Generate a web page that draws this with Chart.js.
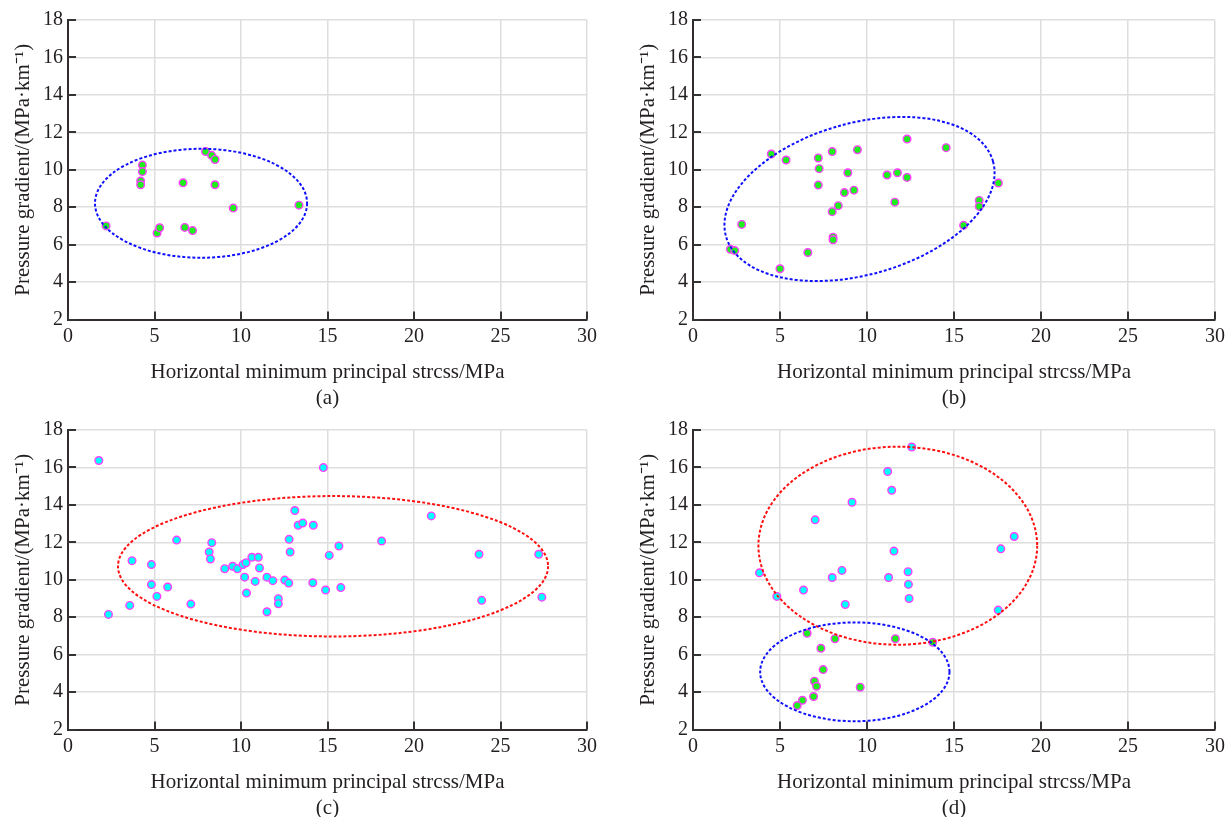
<!DOCTYPE html>
<html>
<head>
<meta charset="utf-8">
<script src="https://cdn.jsdelivr.net/npm/chart.js@4"></script>
<style>
  html, body { margin: 0; padding: 0; background: #fff; overflow: hidden; }
  #wrap { position: relative; width: 1227px; height: 817px; overflow: hidden; }
  canvas { position: absolute; }
</style>
</head>
<body>
<div id="wrap">
  <canvas id="ca" width="613" height="411" style="left:0;top:0"></canvas>
  <canvas id="cb" width="608" height="411" style="left:625px;top:0"></canvas>
  <canvas id="cc" width="613" height="411" style="left:0;top:410px"></canvas>
  <canvas id="cd" width="608" height="411" style="left:625px;top:410px"></canvas>
</div>
<script>
// tick labels
const xTicks = [0, 5, 10, 15, 20, 25, 30];
const yTicks = [2, 4, 6, 8, 10, 12, 14, 16, 18];

// (a) green points
const aX = [2.2, 4.3, 4.3, 4.2, 4.2, 5.15, 5.3, 6.65, 6.75, 7.2, 7.95, 8.3, 8.5, 8.5, 9.55, 13.35];
const aY = [7.0, 10.25, 9.9, 9.4, 9.2, 6.62, 6.9, 9.3, 6.92, 6.75, 10.97, 10.77, 10.55, 9.2, 7.95, 8.11];

// (b) green points
const bX = [2.15, 2.4, 2.8, 4.5, 5.35, 5.0, 6.6, 7.2, 7.25, 7.2, 8.0, 8.0, 8.35, 8.05, 8.05, 8.7, 8.9, 9.25, 9.45,
            11.15, 11.75, 11.6, 12.3, 12.3, 14.55, 15.55, 16.45, 16.45, 17.55];
const bY = [5.75, 5.68, 7.08, 10.84, 10.52, 4.71, 5.58, 10.63, 10.06, 9.18, 10.97, 7.76, 8.08, 6.4, 6.26, 8.78, 9.84, 8.91, 11.07,
            9.72, 9.84, 8.27, 11.64, 9.59, 11.18, 7.03, 8.36, 8.04, 9.29];

// (c) cyan points
const cX = [1.78, 2.34, 3.57, 3.7, 4.82, 4.82, 5.14, 5.76, 6.28, 7.1, 8.16, 8.23, 8.31, 9.06, 9.52, 9.79, 10.12, 10.29,
            10.21, 10.32, 10.63, 11.0, 11.07, 10.82, 11.5, 11.5, 11.84, 12.16, 12.16, 12.53, 12.76, 12.78, 12.84,
            13.11, 13.3, 13.57, 14.18, 14.15, 14.76, 15.66, 15.1, 18.13, 21.0, 23.76, 27.21, 14.89, 15.77, 23.91, 27.39];
const cY = [16.37, 8.15, 8.63, 11.02, 10.81, 9.74, 9.11, 9.61, 12.12, 8.7, 11.48, 11.11, 11.98, 10.59, 10.72, 10.59, 10.81, 10.91,
            10.14, 9.29, 11.2, 11.2, 10.63, 9.91, 10.14, 8.29, 9.95, 8.99, 8.72, 9.98, 9.82, 12.16, 11.48,
            13.7, 12.91, 13.03, 12.91, 9.84, 15.99, 11.8, 11.3, 12.07, 13.41, 11.36, 11.36, 9.45, 9.58, 8.9, 9.07];

// (d) cyan and green points
const dCyanX = [12.57, 11.19, 11.42, 9.14, 7.02, 18.46, 17.69, 11.55, 3.82, 8.56, 8.0, 11.24, 12.36, 12.38, 12.42, 4.82, 6.35, 8.75, 17.54];
const dCyanY = [17.09, 15.78, 14.78, 14.14, 13.2, 12.31, 11.65, 11.53, 10.37, 10.5, 10.12, 10.12, 10.43, 9.75, 9.0, 9.11, 9.45, 8.68, 8.38];
const dGreenX = [6.56, 8.16, 11.63, 13.78, 7.35, 7.48, 6.98, 7.1, 9.61, 6.93, 6.29, 5.99];
const dGreenY = [7.14, 6.85, 6.85, 6.66, 6.34, 5.2, 4.58, 4.31, 4.26, 3.76, 3.56, 3.28];

// ellipses: [centre x, centre y, radius x, radius y, tilt deg]
const aOval = [7.69, 8.21, 6.13, 2.91, 0];
const bOval = [9.57, 8.44, 7.97, 4.05, 15.7];
const cOval = [15.32, 10.72, 12.43, 3.75, 0];
const dRedOval = [11.77, 11.82, 8.01, 5.29, 0];
const dBlueOval = [9.3, 5.08, 5.44, 2.64, 0];

const SERIF = "'Liberation Serif', 'Times New Roman', serif";
const TICK_FONT = { family: SERIF, size: 20 };
const TITLE_FONT = { family: SERIF, size: 21 };
const TEXT = "#231f20";
const GREEN = "#1ef01e", CYAN = "#00ffff", RING = "#ff3cff";

function pts(xs, ys) {
  return xs.map((x, i) => ({ x: x, y: ys[i] }));
}

function series(xs, ys, fill) {
  return {
    data: pts(xs, ys),
    backgroundColor: fill,
    borderColor: RING,
    pointRadius: 3.8,
    pointBorderWidth: 1.4,
    pointHoverRadius: 3.8
  };
}

// dashed ellipses + inward tick marks
function overlay(ovals) {
  return {
    id: "overlay",
    afterDatasetsDraw(chart) {
      const ctx = chart.ctx, xs = chart.scales.x, ys = chart.scales.y;
      ovals.forEach(o => {
        const e = o.e;
        const cx = xs.getPixelForValue(e[0]), cy = ys.getPixelForValue(e[1]);
        const rx = Math.abs(xs.getPixelForValue(e[0] + e[2]) - cx);
        const ry = Math.abs(ys.getPixelForValue(e[1] + e[3]) - cy);
        ctx.save();
        ctx.strokeStyle = o.color;
        ctx.lineWidth = 2;
        ctx.setLineDash([3, 2]);
        ctx.beginPath();
        ctx.ellipse(cx, cy, rx, ry, -e[4] * Math.PI / 180, 0, Math.PI * 2);
        ctx.stroke();
        ctx.restore();
      });
      const a = chart.chartArea;
      ctx.save();
      ctx.strokeStyle = "#333";
      ctx.lineWidth = 2;
      ctx.beginPath();
      xTicks.forEach(v => {
        const p = Math.round(xs.getPixelForValue(v));
        ctx.moveTo(p, a.bottom);
        ctx.lineTo(p, a.bottom - 8);
      });
      yTicks.forEach(v => {
        const p = Math.round(ys.getPixelForValue(v));
        ctx.moveTo(a.left, p);
        ctx.lineTo(a.left + 8, p);
      });
      ctx.stroke();
      ctx.restore();
    }
  };
}

function makeChart(id, datasets, ovals, caption, padRight) {
  new Chart(document.getElementById(id), {
    type: "scatter",
    data: { datasets: datasets },
    options: {
      responsive: false,
      animation: false,
      events: [],
      layout: { padding: { top: 20, right: padRight, bottom: 0, left: 0 } },
      plugins: {
        legend: { display: false },
        tooltip: { enabled: false },
        title: {
          display: true,
          text: caption,
          position: "bottom",
          fullSize: false,
          font: Object.assign({ weight: "normal" }, TITLE_FONT),
          color: TEXT,
          padding: 0
        }
      },
      scales: {
        x: {
          type: "linear",
          min: xTicks[0],
          max: xTicks[xTicks.length - 1],
          afterBuildTicks: s => { s.ticks = xTicks.map(v => ({ value: v })); },
          afterFit: s => { s.height = 66.3; },
          ticks: { font: TICK_FONT, color: TEXT, padding: 5 },
          grid: { color: "#dedede", lineWidth: 1.5, drawTicks: false },
          border: { color: "#332c2c", width: 2 },
          title: {
            display: true,
            text: "Horizontal minimum principal strcss/MPa",
            font: TITLE_FONT,
            color: TEXT,
            padding: { top: 0, bottom: 1 }
          }
        },
        y: {
          type: "linear",
          min: yTicks[0],
          max: yTicks[yTicks.length - 1],
          afterBuildTicks: s => { s.ticks = yTicks.map(v => ({ value: v })); },
          afterFit: s => { s.width = 68; },
          ticks: { font: TICK_FONT, color: TEXT, padding: 5 },
          grid: { color: "#dedede", lineWidth: 1.5, drawTicks: false },
          border: { color: "#332c2c", width: 2 },
          title: {
            display: true,
            text: "Pressure gradient/(MPa\u00b7km\u207b\u00b9)",
            font: TITLE_FONT,
            color: TEXT,
            padding: { top: 11, bottom: 0 }
          }
        }
      }
    },
    plugins: [overlay(ovals)]
  });
}

makeChart("ca", [series(aX, aY, GREEN)], [{ e: aOval, color: "#1010ff" }], "(a)", 26);
makeChart("cb", [series(bX, bY, GREEN)], [{ e: bOval, color: "#1010ff" }], "(b)", 18);
makeChart("cc", [series(cX, cY, CYAN)], [{ e: cOval, color: "#ff1010" }], "(c)", 26);
makeChart("cd", [series(dCyanX, dCyanY, CYAN), series(dGreenX, dGreenY, GREEN)],
  [{ e: dRedOval, color: "#ff1010" }, { e: dBlueOval, color: "#1010ff" }], "(d)", 18);
</script>
</body>
</html>
